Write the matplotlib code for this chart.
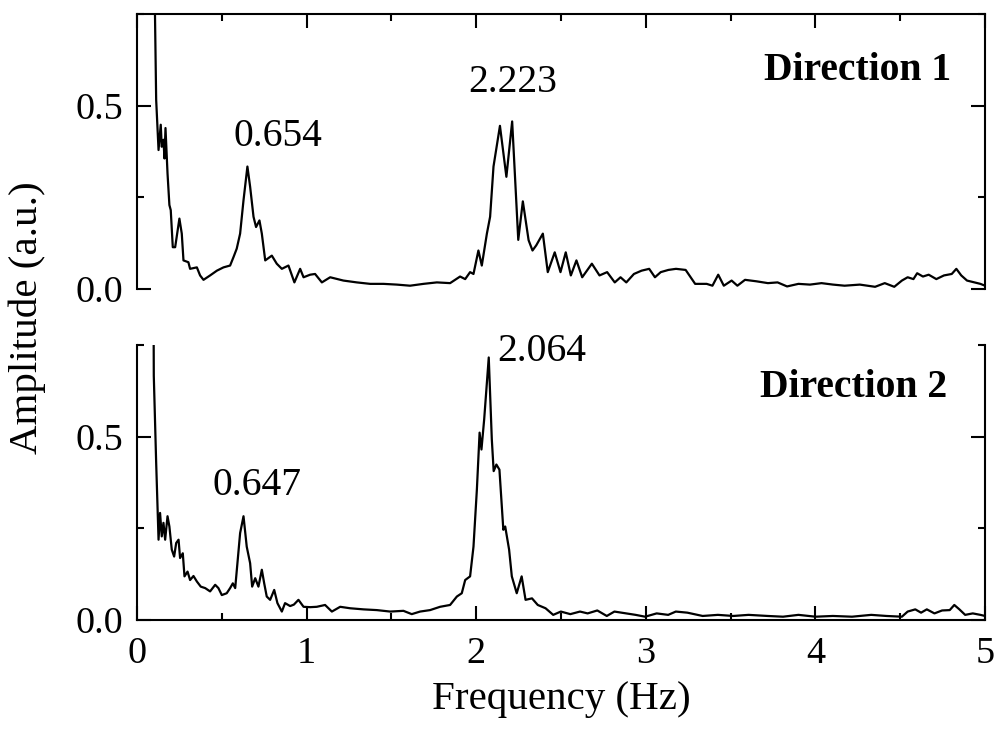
import matplotlib
matplotlib.use("Agg")
import matplotlib.pyplot as plt
from matplotlib.ticker import MultipleLocator

plt.rcParams['font.family'] = ['Liberation Serif', 'DejaVu Serif']

# ---- Data ----
freq_dir1 = [0.100, 0.113, 0.127, 0.140, 0.146, 0.156, 0.162, 0.168, 0.180, 0.191, 0.199, 0.211, 0.225,
             0.250, 0.264, 0.274, 0.303, 0.313, 0.353, 0.372, 0.392, 0.431, 0.471, 0.510, 0.549, 0.569,
             0.588, 0.608, 0.628, 0.651, 0.667, 0.687, 0.702, 0.722, 0.736, 0.756, 0.795, 0.824, 0.854,
             0.893, 0.928, 0.962, 0.982, 1.021, 1.050, 1.090, 1.139, 1.217, 1.296, 1.375, 1.453, 1.532,
             1.610, 1.689, 1.768, 1.846, 1.905, 1.935, 1.964, 1.984, 2.013, 2.033, 2.063, 2.082, 2.102,
             2.140, 2.178, 2.212, 2.248, 2.275, 2.309, 2.332, 2.354, 2.393, 2.422, 2.463, 2.497, 2.528,
             2.558, 2.591, 2.625, 2.682, 2.727, 2.772, 2.817, 2.851, 2.885, 2.930, 2.975, 3.020, 3.054,
             3.088, 3.133, 3.178, 3.235, 3.291, 3.359, 3.393, 3.427, 3.460, 3.506, 3.540, 3.585, 3.652,
             3.720, 3.777, 3.833, 3.900, 3.968, 4.036, 4.104, 4.172, 4.262, 4.352, 4.409, 4.465, 4.510,
             4.544, 4.578, 4.600, 4.634, 4.668, 4.713, 4.758, 4.804, 4.831, 4.860, 4.894, 4.939, 4.973,
             5.000]
amp_dir1 = [0.950, 0.516, 0.379, 0.448, 0.388, 0.407, 0.356, 0.439, 0.315, 0.229, 0.215, 0.114, 0.114,
            0.192, 0.151, 0.078, 0.073, 0.055, 0.059, 0.037, 0.025, 0.037, 0.050, 0.059, 0.064, 0.087,
            0.110, 0.151, 0.242, 0.334, 0.279, 0.197, 0.169, 0.187, 0.151, 0.078, 0.091, 0.069, 0.055,
            0.064, 0.018, 0.055, 0.032, 0.039, 0.041, 0.018, 0.032, 0.023, 0.018, 0.014, 0.014, 0.012,
            0.009, 0.014, 0.018, 0.016, 0.034, 0.027, 0.046, 0.041, 0.105, 0.064, 0.151, 0.197, 0.334,
            0.445, 0.306, 0.457, 0.134, 0.239, 0.133, 0.105, 0.119, 0.151, 0.046, 0.100, 0.046, 0.100,
            0.037, 0.078, 0.032, 0.069, 0.037, 0.046, 0.018, 0.032, 0.018, 0.041, 0.050, 0.055, 0.032,
            0.046, 0.052, 0.055, 0.052, 0.014, 0.014, 0.009, 0.039, 0.009, 0.023, 0.009, 0.025, 0.021,
            0.016, 0.018, 0.007, 0.014, 0.012, 0.016, 0.012, 0.009, 0.012, 0.006, 0.016, 0.006, 0.023,
            0.032, 0.027, 0.043, 0.034, 0.039, 0.027, 0.037, 0.041, 0.055, 0.037, 0.023, 0.018, 0.014,
            0.009]

freq_dir2 = [0.097, 0.099, 0.113, 0.127, 0.136, 0.146, 0.156, 0.166, 0.180, 0.191, 0.205, 0.219, 0.231,
             0.245, 0.254, 0.270, 0.280, 0.298, 0.313, 0.333, 0.353, 0.376, 0.402, 0.431, 0.461, 0.480,
             0.500, 0.529, 0.549, 0.565, 0.579, 0.592, 0.608, 0.628, 0.647, 0.667, 0.679, 0.697, 0.716,
             0.736, 0.750, 0.765, 0.785, 0.809, 0.828, 0.854, 0.873, 0.903, 0.925, 0.952, 0.982, 1.021,
             1.060, 1.109, 1.149, 1.198, 1.257, 1.335, 1.414, 1.493, 1.571, 1.620, 1.669, 1.728, 1.787,
             1.846, 1.886, 1.915, 1.935, 1.964, 1.984, 2.004, 2.020, 2.031, 2.047, 2.074, 2.092, 2.103,
             2.119, 2.137, 2.160, 2.171, 2.194, 2.210, 2.239, 2.268, 2.291, 2.329, 2.363, 2.409, 2.454,
             2.499, 2.555, 2.612, 2.657, 2.714, 2.770, 2.815, 2.883, 2.940, 2.996, 3.064, 3.132, 3.177,
             3.245, 3.335, 3.425, 3.516, 3.606, 3.719, 3.809, 3.900, 4.001, 4.103, 4.216, 4.329, 4.419,
             4.510, 4.544, 4.589, 4.623, 4.657, 4.702, 4.747, 4.792, 4.819, 4.849, 4.883, 4.928, 4.973,
             5.000]
amp_dir2 = [0.950, 0.666, 0.429, 0.219, 0.292, 0.228, 0.265, 0.219, 0.283, 0.255, 0.192, 0.173, 0.210,
            0.219, 0.169, 0.182, 0.119, 0.132, 0.109, 0.120, 0.105, 0.091, 0.087, 0.078, 0.096, 0.087,
            0.068, 0.073, 0.087, 0.100, 0.087, 0.155, 0.237, 0.283, 0.200, 0.155, 0.091, 0.114, 0.091,
            0.137, 0.100, 0.064, 0.055, 0.082, 0.046, 0.023, 0.046, 0.038, 0.042, 0.055, 0.036, 0.035,
            0.036, 0.041, 0.023, 0.036, 0.032, 0.029, 0.027, 0.023, 0.025, 0.016, 0.023, 0.027, 0.036,
            0.041, 0.064, 0.073, 0.109, 0.119, 0.200, 0.356, 0.511, 0.465, 0.547, 0.716, 0.493, 0.406,
            0.424, 0.410, 0.246, 0.255, 0.192, 0.119, 0.073, 0.119, 0.055, 0.059, 0.041, 0.032, 0.014,
            0.023, 0.016, 0.023, 0.018, 0.026, 0.011, 0.023, 0.018, 0.014, 0.009, 0.018, 0.014, 0.023,
            0.020, 0.011, 0.014, 0.011, 0.014, 0.011, 0.009, 0.014, 0.009, 0.011, 0.009, 0.014, 0.011,
            0.009, 0.023, 0.029, 0.020, 0.029, 0.018, 0.026, 0.027, 0.041, 0.029, 0.014, 0.018, 0.014,
            0.011]

peak_labels_dir1 = ["0.654", "2.223"]
peak_labels_dir2 = ["0.647", "2.064"]
panel_titles = ["Direction 1", "Direction 2"]
xticks = [0, 1, 2, 3, 4, 5]
yticks = [0.0, 0.5]

# ---- Figure ----
fig = plt.figure(figsize=(10, 7.34), dpi=100)
W, H = 1000, 734
left, right = 137, 985
ax1 = fig.add_axes([left / W, 1 - 289 / H, (right - left) / W, 275 / H])
ax2 = fig.add_axes([left / W, 1 - 620 / H, (right - left) / W, 275 / H])

lw_line = 1.6
ax1.plot(freq_dir1, amp_dir1, color='black', lw=lw_line)
ax2.plot(freq_dir2, amp_dir2, color='black', lw=lw_line)

tick_fs = 27.5
for ax in (ax1, ax2):
    ax.set_xlim(0, 5)
    ax.set_ylim(0, 0.75)
    ax.set_xticks(xticks)
    ax.set_yticks(yticks)
    ax.xaxis.set_minor_locator(MultipleLocator(0.5))
    ax.yaxis.set_minor_locator(MultipleLocator(0.25))
    ax.yaxis.set_major_formatter(matplotlib.ticker.FormatStrFormatter('%.1f'))
    for s in ax.spines.values():
        s.set_linewidth(1.5)
    ax.tick_params(which='major', direction='in', length=10, width=1.5, labelsize=tick_fs, pad=10)
    ax.tick_params(which='minor', direction='in', length=5, width=1.5)

# top panel: no bottom spine, ticks on top and right
ax1.spines['bottom'].set_visible(False)
ax1.tick_params(which='both', bottom=False, top=True, left=True, right=True, labelbottom=False)
# bottom panel: no top spine
ax2.spines['top'].set_visible(False)
ax2.tick_params(which='both', bottom=True, top=False, left=True, right=True)
ax2.tick_params(axis='x', which='major', pad=12)

ann_fs = 28.5
ax1.text(0.831, 0.415, peak_labels_dir1[0], fontsize=ann_fs, ha='center', va='center')
ax1.text(2.217, 0.563, peak_labels_dir1[1], fontsize=ann_fs, ha='center', va='center')
ax1.text(4.80, 0.596, panel_titles[0], fontsize=ann_fs, fontweight='bold', ha='right', va='center')

ax2.text(0.71, 0.366, peak_labels_dir2[0], fontsize=ann_fs, ha='center', va='center')
ax2.text(2.388, 0.732, peak_labels_dir2[1], fontsize=ann_fs, ha='center', va='center')
ax2.text(4.78, 0.634, panel_titles[1], fontsize=ann_fs, fontweight='bold', ha='right', va='center')

fig.text(561 / W, 1 - 700 / H, "Frequency (Hz)", fontsize=29.5, ha='center', va='center')
fig.text(27 / W, 1 - 318 / H, "Amplitude (a.u.)", fontsize=29.5, ha='center', va='center', rotation=90)

fig.savefig("out.png", dpi=100)
